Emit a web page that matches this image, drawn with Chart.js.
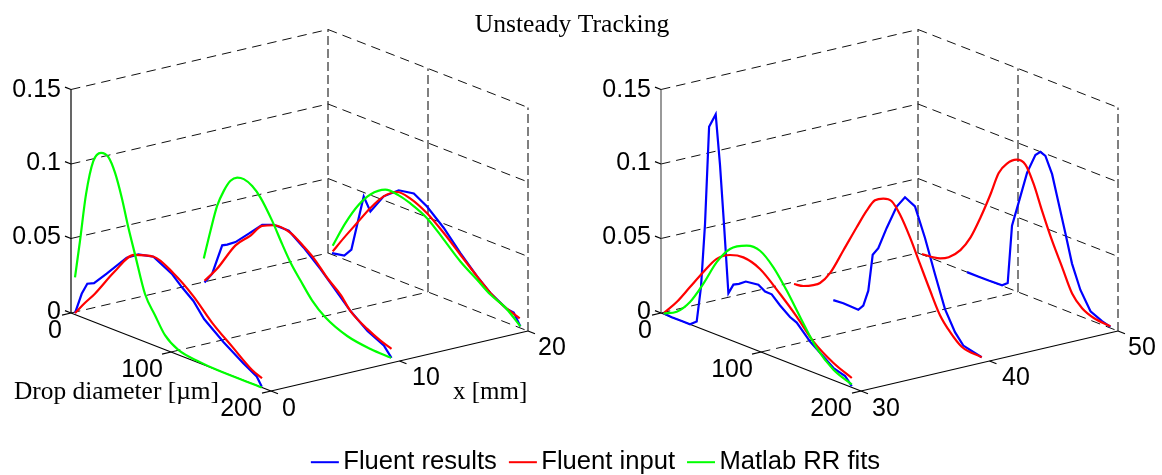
<!DOCTYPE html>
<html>
<head>
<meta charset="utf-8">
<title>Unsteady Tracking</title>
<script src="https://cdn.jsdelivr.net/npm/chart.js@4"></script>
<style>
html, body { margin: 0; background: #fff; }
canvas { display: block; }
</style>
</head>
<body>
<canvas id="chart" width="1162" height="475"></canvas>
<script>
const seriesNames = ["Fluent results", "Fluent input", "Matlab RR fits"];
const zTicks = [0, 0.05, 0.1, 0.15];
const diamTicks = [0, 100, 200];
const xTicksLeft = [0, 10, 20];
const xTicksRight = [30, 40, 50];

// x = 0 mm
const d0Blue = [4,10.7,16.3,23,35.7,55.7,67.4,82.4,100.7,110.8,122.4,133.1,152.4,172.5,185.7,190.8];
const z0Blue = [.001,.0157,.0239,.0261,.0357,.0517,.057,.0593,.0528,.0464,.0401,.0308,.0204,.0113,.006,.0005];
const d0Red = [4,13.8,23.7,43.4,63,82.7,102.4,122.1,141.8,161.4,181.1,191];
const z0Red = [.001,.0103,.019,.039,.0555,.0594,.0535,.0435,.03,.0195,.0092,.0062];
const d0Green = [4,9,15,22.3,30,37.4,44,50.7,57.3,64,74,84.1,94,107.3,129,145.7,190.8];
const z0Green = [.025,.0508,.0835,.1077,.1153,.1144,.1057,.0908,.0726,.0561,.0321,.0204,.0097,.0033,.0008,0,0];

// x = 10 mm
const d10Blue = [5,12.7,22.7,27.7,36,49.3,62.7,74.3,89.3,104,121,134.3,151,168,184.3,192];
const z10Blue = [.0017,.0096,.0312,.033,.0369,.046,.0555,.0585,.0585,.0511,.041,.032,.0207,.0118,.0063,0];
const d10Red = [5,17.7,36,51,62.7,74.3,91,104,114,128,141,151,168,181,192];
const z10Red = [.0028,.0143,.0347,.0452,.0547,.0582,.0575,.0519,.0467,.0367,.0291,.0207,.013,.0087,.006];
const d10Green = [4.3,11,17.7,24.3,31,37.7,44.3,52.7,61,72.7,82.7,91,101,112.7,126,147.7,171,191.7];
const z10Green = [.0176,.038,.0565,.0682,.0767,.0806,.0813,.0789,.0733,.0607,.0477,.0376,.0281,.0177,.0098,.0031,.0005,0];

// x = 20 mm
const d20Blue = [4,16.3,23.4,35.7,42.4,55.7,70.7,85.8,99,115.8,132.4,149.1,162.4,179.2,185.7,192.4];
const z20Blue = [.001,.0025,.0084,.0473,.039,.0526,.0606,.0624,.0571,.0471,.0346,.0233,.0157,.0091,.0087,.0011];
const d20Red = [4.7,15.7,29,42.4,55.7,69,82.4,99,115.8,132.4,149.1,162.4,175.8,191.7];
const z20Red = [.0023,.0141,.0277,.0413,.0526,.059,.0581,.0526,.0437,.0335,.0233,.0157,.0104,.0063];
const d20Green = [4.7,17.4,30.7,42.4,57.3,70.7,82.4,99,115.8,132.4,149.1,162.4,177.5,192.4];
const z20Green = [.0061,.0246,.0404,.0504,.0575,.0572,.0548,.0493,.0393,.029,.0211,.0146,.0098,.0011];

// x = 30 mm
const d30Blue = [3,10.7,20.7,29,35.7,40,44,48.1,54.7,59,63,67.4,72.4,78,84.8,97.4,104.1,110.7,119.1,129,135.7,149.1,162.4,172.5,184.1,190.8];
const z30Blue = [.0005,0,0,0,.0036,.028,.071,.1376,.1476,.1149,.076,.0309,.038,.04,.0433,.0445,.0417,.0415,.0362,.0311,.0291,.0198,.0133,.0082,.0058,.0009];
const d30Red = [3,15.7,29,42.4,55.7,69,82.4,99,119.1,135.7,152.5,172.5,190.8];
const z30Red = [.0008,.0115,.025,.0386,.0509,.057,.0589,.0555,.0439,.0331,.0207,.0116,.0063];
const d30Green = [3,15.7,29,42.4,55.7,69,85.7,99,112.4,125.7,139.1,155.8,172.5,190.8];
const z30Green = [.0005,.005,.015,.0308,.0487,.061,.0676,.0677,.0601,.048,.0338,.0171,.0071,.002];

// x = 40 mm
const d40Blue = [43.8,53.8,68.8,73.8,78.8,83.2,88.8,97.2,107.2,115.5,125.5,135.5,145.5,155.5,165.5,173.8,183.8,192.2];
const z40Blue = [0,.0005,0,.0042,.0155,.0407,.0466,.0624,.0794,.0878,.0843,.0657,.044,.0232,.0103,.0035,.0018,.0005];
const d40Red = [4.5,13.8,23.8,30.5,40.5,53.8,67.2,77.2,85.5,93.8,102.2,110.5,120.5,130.5,140.5,150.5,160.5,172.2,192.2];
const z40Red = [.0005,.0016,.0048,.008,.0172,.0359,.055,.0688,.0779,.0812,.0816,.0749,.0622,.047,.0319,.0178,.0092,.0023,.0005];

// x = 50 mm
const d50Blue = [49,60.7,70.7,84.1,89.7,94,100.7,109.1,117.4,122.4,127.4,134.1,140.8,147.5,154,162.4,172.5,184,192.4];
const z50Blue = [0,0,0,.0003,.0033,.043,.0603,.0825,.0965,.0999,.0985,.088,.0698,.0516,.0332,.0177,.006,.0024,.0008];
const d50Red = [4,14,22.3,30.7,42.4,52.4,62.4,72.4,80.7,89,98.4,107.4,115.8,124,134,144.1,154.1,164.1,175.8,192.4];
const z50Red = [.0004,.001,.0022,.0052,.013,.024,.04,.0582,.0748,.0833,.0884,.0875,.0764,.0609,.0435,.0283,.0132,.0059,.0024,.0012];

const blue = "#0000ff", red = "#ff0000", green = "#00ff00";

// 3d view of the matlab axes, same for both panels
function project(xStart, xMm, diam, z) {
  const panelShift = xStart === 0 ? 0 : 590;
  const rel = xMm - xStart;
  return {
    x: 71 + panelShift + 12.85 * rel + diam,
    y: 313 - 3 * rel + 0.39 * diam - 1490 * z
  };
}

let datasets = [];

function addCurve(xStart, xMm, color, ds, zs, label) {
  datasets.push({
    label: label,
    data: ds.map((d, i) => project(xStart, xMm, d, zs[i])),
    borderColor: color,
    backgroundColor: color,
    borderWidth: 2.2,
    pointRadius: 0,
    cubicInterpolationMode: color === blue ? "default" : "monotone",
    order: color === green ? 1 : color === red ? 2 : 3,
    clip: false
  });
}

function addLine(xStart, a, b, style) {
  datasets.push({
    data: [project(xStart, a[0], a[1], a[2]), project(xStart, b[0], b[1], b[2])],
    borderColor: style.color,
    borderWidth: style.width,
    borderDash: style.dash,
    pointRadius: 0,
    order: style.dash ? 11 : 10,
    clip: false
  });
}

const gridLine = { color: "#111", width: 1, dash: [9.5, 6] };
const gridUp = { color: "#555", width: 1.5, dash: [9, 4] };
const axisLine = { color: "#000", width: 1.2 };
const axisGray = { color: "#555", width: 1.2 };

function addFrame(xStart, xs) {
  const x0 = xs[0], x1 = xs[2];
  const zTop = zTicks[zTicks.length - 1];
  zTicks.forEach(z => {
    addLine(xStart, [x0, 0, z], [x1, 0, z], gridLine);
    addLine(xStart, [x1, 0, z], [x1, 200, z], gridLine);
    addLine(xStart, [x0, 0, z], [x0, -6, z], axisLine);
  });
  addLine(xStart, [x0, 100, 0], [x1, 100, 0], gridLine);
  diamTicks.forEach(d => {
    addLine(xStart, [x1, d, 0], [x1, d, zTop], gridUp);
    addLine(xStart, [x0, d, 0], [x0 - 0.7, d, 0], axisLine);
  });
  xs.forEach(x => addLine(xStart, [x, 200, 0], [x, 207, 0], axisLine));
  addLine(xStart, [x0, 0, 0], [x0, 0, zTop], xStart === 0 ? axisLine : axisGray);
  addLine(xStart, [x0, 0, 0], [x0, 200, 0], axisLine);
  addLine(xStart, [x0, 200, 0], [x1, 200, 0], axisLine);
}

addCurve(0, 0, blue, d0Blue, z0Blue, seriesNames[0]);
addCurve(0, 0, red, d0Red, z0Red, seriesNames[1]);
addCurve(0, 0, green, d0Green, z0Green, seriesNames[2]);
addCurve(0, 10, blue, d10Blue, z10Blue);
addCurve(0, 10, red, d10Red, z10Red);
addCurve(0, 10, green, d10Green, z10Green);
addCurve(0, 20, blue, d20Blue, z20Blue);
addCurve(0, 20, red, d20Red, z20Red);
addCurve(0, 20, green, d20Green, z20Green);
addCurve(30, 30, blue, d30Blue, z30Blue);
addCurve(30, 30, red, d30Red, z30Red);
addCurve(30, 30, green, d30Green, z30Green);
addCurve(30, 40, blue, d40Blue, z40Blue);
addCurve(30, 40, red, d40Red, z40Red);
addCurve(30, 50, blue, d50Blue, z50Blue);
addCurve(30, 50, red, d50Red, z50Red);
addFrame(0, xTicksLeft);
addFrame(30, xTicksRight);

const sansFont = "25px 'Liberation Sans'";
const serifFont = "25.4px 'Liberation Serif'";

function put(ctx, text, x, y, align, font) {
  ctx.font = font;
  ctx.textAlign = align;
  ctx.textBaseline = "middle";
  ctx.fillStyle = "#000";
  ctx.fillText(text, x, y);
}

const axesText = {
  id: "axesText",
  afterLayout(chart) {
    // make the hidden scales run 1:1 with canvas pixels whatever title and legend take
    const { x, y } = chart.scales;
    x.min = x.left; x.max = x.right; x.configure();
    y.min = y.top; y.max = y.bottom; y.configure();
    chart.titleBlock.left -= 18;
    chart.legend.left += 29;
    chart.legend.top += 10;
  },
  afterDraw(chart) {
    const ctx = chart.ctx;
    [[0, xTicksLeft], [590, xTicksRight]].forEach(([shift, xs]) => {
      put(ctx, "0.15", 61 + shift, 90, "right", sansFont);
      put(ctx, "0.1", 61 + shift, 163, "right", sansFont);
      put(ctx, "0.05", 61 + shift, 237, "right", sansFont);
      put(ctx, "0", 61 + shift, 312, "right", sansFont);
      put(ctx, String(diamTicks[0]), 62 + shift, 331, "right", sansFont);
      put(ctx, String(diamTicks[1]), 142 + shift, 370, "center", sansFont);
      put(ctx, String(diamTicks[2]), 241 + shift, 409, "center", sansFont);
      put(ctx, String(xs[0]), 282 + shift, 409, "left", sansFont);
      put(ctx, String(xs[1]), 412 + shift, 378, "left", sansFont);
      put(ctx, String(xs[2]), 538 + shift, 348, "left", sansFont);
    });
    put(ctx, "Drop diameter [µm]", 14, 392, "left", serifFont);
    put(ctx, "x [mm]", 453, 392, "left", "25px 'Liberation Serif'");

    // legend line samples, the library box is kept invisible
    const legend = chart.legend;
    const pad = legend.options.labels.padding;
    let left = (legend.left + pad + legend.right - legend.lineWidths[0]) / 2;
    const yMid = legend.top + pad + legend.legendHitBoxes[0].height / 2;
    legend.legendHitBoxes.forEach((box, i) => {
      ctx.strokeStyle = legend.legendItems[i].sampleColor;
      ctx.lineWidth = 2;
      ctx.setLineDash([]);
      ctx.beginPath();
      ctx.moveTo(left, yMid);
      ctx.lineTo(left + 28, yMid);
      ctx.stroke();
      left += box.width + pad;
    });
  }
};

new Chart(document.getElementById("chart"), {
  type: "scatter",
  data: { datasets: datasets },
  plugins: [axesText],
  options: {
    responsive: false,
    animation: false,
    showLine: true,
    layout: { padding: 0 },
    scales: {
      x: { type: "linear", display: false },
      y: { type: "linear", display: false, reverse: true }
    },
    plugins: {
      tooltip: { enabled: false },
      title: {
        display: true,
        text: "Unsteady Tracking",
        color: "#000",
        font: { family: "'Liberation Serif'", size: 25.6, weight: "normal" },
        padding: { top: 10, bottom: 0 }
      },
      legend: {
        display: true,
        position: "bottom",
        labels: {
          color: "#000",
          font: { family: "'Liberation Sans'", size: 25.6 },
          boxWidth: 19.6,
          boxHeight: 2,
          padding: 12,
          generateLabels(chart) {
            const items = Chart.defaults.plugins.legend.labels.generateLabels(chart);
            items.forEach(it => {
              it.sampleColor = it.strokeStyle;
              it.fillStyle = "transparent";
              it.lineWidth = 0;
            });
            return items;
          },
          filter: item => !!item.text,
          sort: (a, b) => seriesNames.indexOf(a.text) - seriesNames.indexOf(b.text)
        }
      }
    }
  }
});
</script>
</body>
</html>
